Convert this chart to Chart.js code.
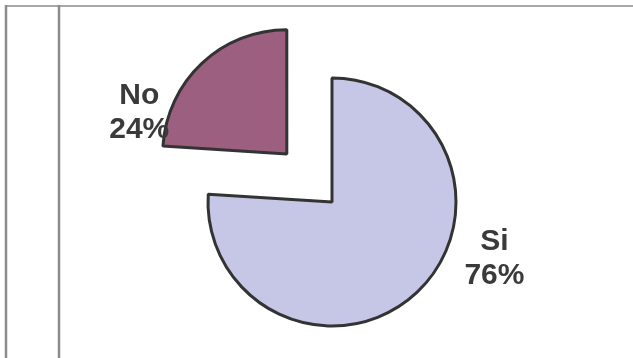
<!DOCTYPE html>
<html>
<head>
<meta charset="utf-8">
<script src="https://cdn.jsdelivr.net/npm/chart.js@4/dist/chart.umd.min.js"></script>
<style>
  html, body { margin: 0; padding: 0; background: #fff; }
  #wrap { width: 633px; height: 358px; }
</style>
</head>
<body>
<div id="wrap"><canvas id="pieChart" width="633" height="358"></canvas></div>
<script>
// data
const categories = ['Si', 'No'];
const percents = [76, 24];
const sliceColors = ['#c6c7e7', '#9c5f80'];

// label anchor relative to the slice centre, in radius units (Excel puts them to the side)
const labelShift = [[1.31, 0.46], [-1.19, -0.33]];

// marco gris del documento escaneado
const framePlugin = {
  id: 'frame',
  beforeDraw(chart) {
    const c = chart.ctx;
    c.save();
    c.fillStyle = '#fff';
    c.fillRect(0, 0, chart.width, chart.height);
    c.strokeStyle = '#a8a8a8';
    c.lineWidth = 2;
    c.beginPath();
    c.moveTo(5, 6); c.lineTo(chart.width, 6);
    c.stroke();
    c.strokeStyle = '#8c8c8c';
    c.lineWidth = 2.5;
    c.beginPath();
    c.moveTo(6, 5); c.lineTo(6, chart.height);
    c.moveTo(59, 5); c.lineTo(59, chart.height);
    c.stroke();
    c.restore();
  }
};

// etiquetas "Categoria / xx%"
const labelPlugin = {
  id: 'sliceLabels',
  afterDatasetsDraw(chart) {
    const c = chart.ctx;
    const arcs = chart.getDatasetMeta(0).data;
    c.save();
    c.font = 'bold 30px "Liberation Sans", Arial, sans-serif';
    c.fillStyle = '#3a3a3a';
    c.textAlign = 'center';
    c.textBaseline = 'middle';
    arcs.forEach((arc, i) => {
      const mid = (arc.startAngle + arc.endAngle) / 2;
      const off = (arc.options.offset || 0) / 4; // chart.js divide el offset por 4
      const cx = arc.x + Math.cos(mid) * off;
      const cy = arc.y + Math.sin(mid) * off;
      const r = arc.outerRadius;
      const x = cx + labelShift[i][0] * r;
      const y = cy + labelShift[i][1] * r;
      c.fillText(categories[i], x, y - 17);
      c.fillText(percents[i] + '%', x, y + 17);
    });
    c.restore();
  }
};

const ctx = document.getElementById('pieChart').getContext('2d');
window.myChart = new Chart(ctx, {
  type: 'pie',
  data: {
    labels: categories,
    datasets: [{
      data: percents,
      backgroundColor: sliceColors,
      borderColor: '#333',
      borderWidth: 3,
      offset: [0, 264],
      radius: 124
    }]
  },
  options: {
    responsive: false,
    animation: false,
    layout: { padding: { left: 31, right: 0, top: 46, bottom: 0 } },
    plugins: {
      legend: { display: false },
      tooltip: { enabled: false }
    }
  },
  plugins: [framePlugin, labelPlugin]
});
</script>
</body>
</html>
